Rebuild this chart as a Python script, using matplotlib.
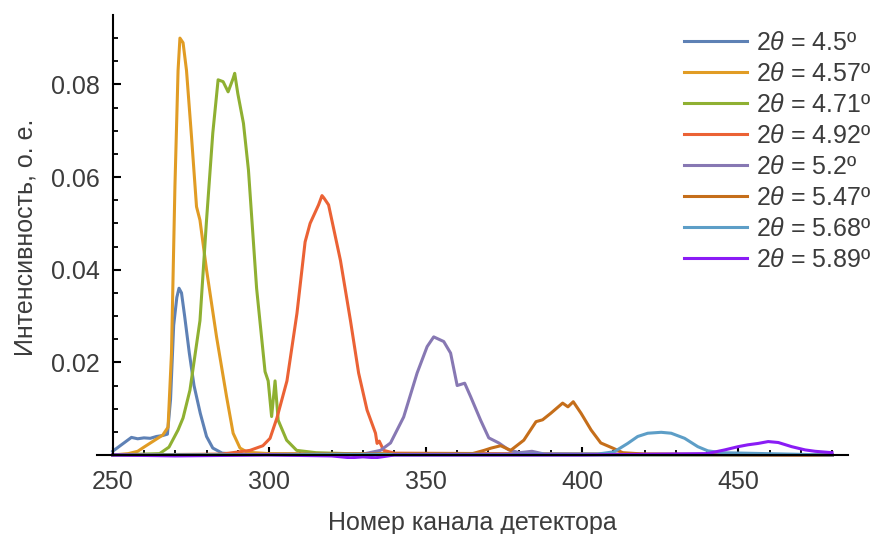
import matplotlib
matplotlib.use("Agg")
import matplotlib.pyplot as plt
from matplotlib.ticker import FixedLocator

plt.rcParams['font.family'] = ['Liberation Sans', 'DejaVu Sans']
plt.rcParams['mathtext.fontset'] = 'custom'
plt.rcParams['mathtext.rm'] = 'Liberation Sans'
plt.rcParams['mathtext.it'] = 'Liberation Sans:italic'

TEXT = '#3c3c3c'

# detector channel / intensity for each scattering angle
ch_450 = [250, 252, 254, 256, 258, 260, 262, 264, 266, 267.5, 268.5, 269.5, 270.5, 271.2, 272, 273,
          274.5, 276, 278, 280, 282, 285, 290, 300, 320, 480]
int_450 = [0.0008, 0.0018, 0.0028, 0.0038, 0.0035, 0.0037, 0.0036, 0.004, 0.0042, 0.0045, 0.012, 0.028,
           0.034, 0.036, 0.035, 0.030, 0.022, 0.015, 0.009, 0.004, 0.0015, 0.0004, 0.0002, 0.0001, 0, 0]

ch_457 = [250, 255, 258, 260, 263, 266, 267.7, 268.8, 269.9, 270.9, 271.5, 272.5, 273.6, 275.2, 276.8,
          277.9, 280, 283.2, 286.4, 288.5, 290.7, 293, 300, 480]
int_457 = [0, 0.0003, 0.0008, 0.0017, 0.003, 0.0043, 0.006, 0.022, 0.058, 0.083, 0.090, 0.089, 0.083,
           0.0687, 0.0536, 0.0507, 0.040, 0.0255, 0.0126, 0.0047, 0.0015, 0.0006, 0.0003, 0]

ch_471 = [250, 265, 268, 270.9, 272.5, 274.7, 277.9, 280, 282, 283.7, 285.3, 286.9, 288.5, 289, 290,
          291.8, 293.4, 296, 298.7, 299.7, 300.8, 301.9, 302.9, 305.6, 308.8, 315, 330, 480]
int_471 = [0, 0.0003, 0.0017, 0.0054, 0.008, 0.014, 0.029, 0.0507, 0.0695, 0.081, 0.0806, 0.0784,
           0.0813, 0.0824, 0.078, 0.0716, 0.0615, 0.036, 0.018, 0.016, 0.0083, 0.016, 0.0075, 0.0032,
           0.001, 0.0005, 0.0002, 0]

ch_492 = [250, 285, 293.9, 298, 300.3, 302.5, 305.7, 308.9, 311.5, 313.1, 315.8, 316.9, 317.5, 319,
          322.8, 326, 328.6, 331.3, 334, 334.5, 335.2, 336.6, 340, 480]
int_492 = [0, 0.0002, 0.001, 0.002, 0.0036, 0.008, 0.016, 0.0306, 0.046, 0.050, 0.054, 0.056, 0.0555,
           0.054, 0.042, 0.029, 0.0177, 0.0097, 0.0047, 0.0025, 0.003, 0.001, 0.0004, 0]

ch_520 = [250, 330, 335.6, 338.8, 343, 347.3, 350.5, 352.6, 355.8, 358, 360.1, 362.5, 364.4, 367.6,
          370.2, 373.4, 376.6, 380, 384, 388, 480]
int_520 = [0, 0.0002, 0.001, 0.0026, 0.0082, 0.0177, 0.0234, 0.0255, 0.0245, 0.022, 0.015, 0.0155,
           0.0126, 0.0075, 0.0037, 0.0026, 0.0011, 0.0005, 0.0008, 0.0002, 0]

ch_547 = [250, 365, 368.7, 371, 374, 377.2, 381.4, 385.3, 387.4, 390, 393.8, 395.5, 397.2, 399.7,
          402.9, 406, 409.8, 413, 420, 480]
int_547 = [0, 0.0003, 0.001, 0.0015, 0.002, 0.001, 0.0032, 0.0072, 0.0076, 0.009, 0.0112, 0.0104,
           0.0115, 0.009, 0.0054, 0.0026, 0.0015, 0.0005, 0.0002, 0]

ch_568 = [250, 405, 410.3, 414.6, 417.8, 421, 425.3, 428.5, 432.8, 437, 440.2, 444.5, 480]
int_568 = [0, 0.0002, 0.0007, 0.0025, 0.004, 0.0047, 0.0049, 0.0047, 0.0036, 0.0018, 0.0009, 0.0005, 0]

ch_589 = [250, 270, 300, 320, 326, 330, 334, 340, 360, 400, 440, 445.6, 449.9, 453, 456.3, 459.5,
          462.7, 467, 471.3, 474.5, 479.9]
int_589 = [0, -0.0002, 0.0, -0.0002, -0.0006, -0.0004, -0.0006, 0, 0, 0, 0.0003, 0.0011, 0.0018,
           0.0022, 0.0025, 0.0029, 0.0027, 0.0018, 0.0011, 0.0008, 0.0005]

labels = ['4.5', '4.57', '4.71', '4.92', '5.2', '5.47', '5.68', '5.89']
colours = ['#5E81B5', '#E19C24', '#8FB032', '#EB6235', '#8778B3', '#C56E1A', '#5D9EC7', '#8A1CF5']
series = [(ch_450, int_450), (ch_457, int_457), (ch_471, int_471), (ch_492, int_492),
          (ch_520, int_520), (ch_547, int_547), (ch_568, int_568), (ch_589, int_589)]

fig = plt.figure(figsize=(8.86, 5.34), dpi=100)
ax = fig.add_axes([0.1095, 0.141, 0.8476, 0.831])

for (x, y), lab, c in zip(series, labels, colours):
    ax.plot(x, y, color=c, lw=2.2, label=r'$\mathit{2\theta}$ = ' + lab + 'º')

ax.set_xlim(245, 485)
ax.set_ylim(-0.0008, 0.095)

ax.spines['left'].set_position(('data', 250))
ax.spines['bottom'].set_position(('data', 0))
ax.spines['left'].set_bounds(0, 0.095)
ax.spines['top'].set_visible(False)
ax.spines['right'].set_visible(False)
for s in ('left', 'bottom'):
    ax.spines[s].set_linewidth(1.5)

ax.xaxis.set_major_locator(FixedLocator([250, 300, 350, 400, 450]))
ax.xaxis.set_minor_locator(FixedLocator([v for v in range(260, 481, 10) if v % 50 != 0]))
ax.yaxis.set_major_locator(FixedLocator([0.02, 0.04, 0.06, 0.08]))
ax.yaxis.set_minor_locator(FixedLocator([0.005, 0.01, 0.015, 0.025, 0.03, 0.035, 0.045, 0.05, 0.055,
                                         0.065, 0.07, 0.075, 0.085, 0.09]))
ax.tick_params(which='major', direction='in', length=6, width=1.5, labelsize=18, labelcolor=TEXT)
ax.tick_params(axis='x', which='major', pad=11)
ax.tick_params(axis='y', which='major', pad=9)
ax.tick_params(which='minor', direction='in', length=3.5, width=1.3)

ax.set_xlabel('Номер канала детектора', fontsize=18, color=TEXT, labelpad=12)
ax.set_ylabel('Интенсивность, о. е.', fontsize=18, color=TEXT, labelpad=10)

fig.legend(loc='upper right', bbox_to_anchor=(1.0, 0.97), frameon=False, fontsize=18,
           labelcolor=TEXT, handlelength=2.5, handletextpad=0.35, labelspacing=0.28,
           borderaxespad=0.2)

fig.savefig('out.png', dpi=100)
